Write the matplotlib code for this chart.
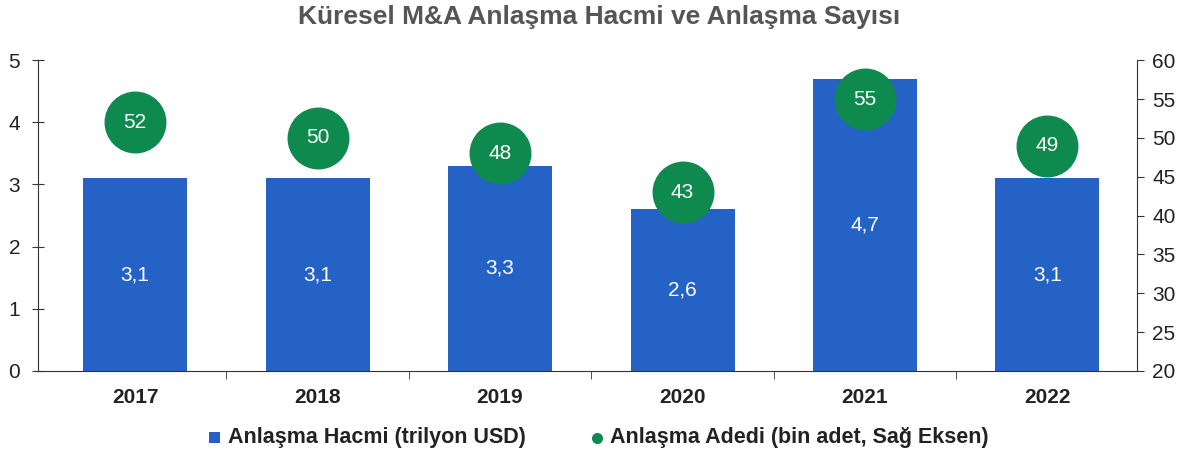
import numpy as np
import matplotlib.pyplot as plt

# Veriler
yillar = ['2017', '2018', '2019', '2020', '2021', '2022']
hacim = [3.1, 3.1, 3.3, 2.6, 4.7, 3.1]
adet = [52, 50, 48, 43, 55, 49]

mavi = '#2462C6'
yesil = '#0F8A4F'
plt.rcParams['font.family'] = ['Liberation Sans', 'DejaVu Sans']

fig = plt.figure(figsize=(11.98, 4.63), dpi=100)
ax = fig.add_axes([0.032, 0.199, 0.917, 0.671])
ax2 = ax.twinx()

x = np.arange(len(yillar))
bars = ax.bar(x, hacim, width=0.57, color=mavi, zorder=2,
              label='Anlaşma Hacmi (trilyon USD)')
for xi, v in zip(x, hacim):
    ax.text(xi, v / 2, f'{v:.1f}'.replace('.', ','), ha='center', va='center',
            color='white', fontsize=15, zorder=3)

ax2.scatter(x, adet, s=1900, color=yesil, zorder=4,
            label='Anlaşma Adedi (bin adet, Sağ Eksen)')
for xi, v in zip(x, adet):
    ax2.text(xi, v, str(v), ha='center', va='center', color='white',
             fontsize=15, zorder=5)

ax.set_xlim(-0.53, 5.49)
ax.set_ylim(0, 5)
ax2.set_ylim(20, 60)
ax.set_yticks(range(6))
ax2.set_yticks(range(20, 61, 5))

ax.set_xticks(x)
ax.set_xticklabels(yillar, fontsize=15, fontweight='bold', color='#222222')
ax.set_xticks(np.arange(0.5, len(yillar) - 0.5, 1), minor=True)
ax.tick_params(axis='x', which='major', length=0, pad=12)
ax.tick_params(axis='x', which='minor', length=6, direction='out', color='#333333')
ax.tick_params(axis='y', labelsize=15, direction='inout', length=8, pad=9,
               color='#333333', labelcolor='#222222')
ax2.tick_params(axis='y', labelsize=15, direction='out', length=5, pad=6,
                color='#333333', labelcolor='#222222')

for a in (ax, ax2):
    a.spines['top'].set_visible(False)
    for s in ('left', 'right', 'bottom'):
        a.spines[s].set_color('#333333')
ax.spines['right'].set_visible(False)
ax2.spines['left'].set_visible(False)
ax2.spines['bottom'].set_visible(False)

fig.suptitle('Küresel M&A Anlaşma Hacmi ve Anlaşma Sayısı', x=0.5, y=0.99,
             fontsize=19, fontweight='bold', color='#555555')

h1, l1 = ax.get_legend_handles_labels()
h2, l2 = ax2.get_legend_handles_labels()
leg = fig.legend(h1 + h2, l1 + l2, loc='lower center', bbox_to_anchor=(0.5, -0.01),
                 ncol=2, frameon=False, fontsize=15.5, handlelength=0.6,
                 handletextpad=0.3, columnspacing=3.0, markerscale=0.16)
for t in leg.get_texts():
    t.set_fontweight('bold')
    t.set_color('#222222')
leg.legend_handles[0].set_height(8)
leg.legend_handles[0].set_width(8)

fig.savefig('out.png', dpi=100)
